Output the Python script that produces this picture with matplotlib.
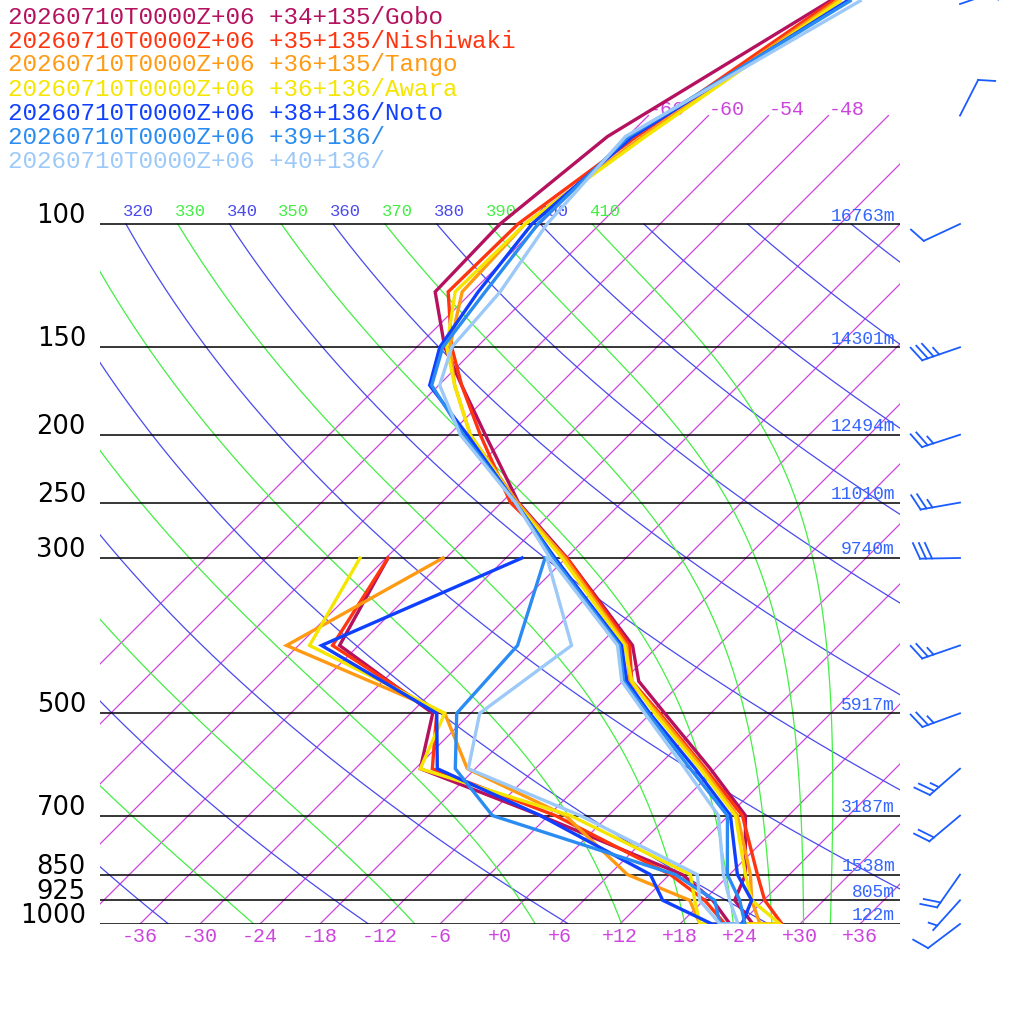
import numpy as np
import matplotlib
matplotlib.use("Agg")
import matplotlib.pyplot as plt

# ---------------- data ----------------
names = ["20260710T0000Z+06 +34+135/Gobo", "20260710T0000Z+06 +35+135/Nishiwaki",
         "20260710T0000Z+06 +36+135/Tango", "20260710T0000Z+06 +36+136/Awara",
         "20260710T0000Z+06 +38+136/Noto", "20260710T0000Z+06 +39+136/",
         "20260710T0000Z+06 +40+136/"]
colors = ["#b5115f", "#ff3510", "#ff9a12", "#f5e600", "#1040ff", "#2a8cf2", "#9cc9f7"]

p_temp = [1000, 925, 850, 700, 600, 500, 450, 400, 300, 250, 200, 170, 150, 125, 100, 75, 48]
t_gobo = [25.3, 21.1, 19.6, 13.7, 5.5, -4.6, -10.4, -14.6, -29.9, -40.3, -50.4, -57.7, -63.2, -69.7, -70.0, -68.0, -59.3]
t_nish = [28.2, 24.1, 20.8, 13.4, 5.0, -5.1, -11.1, -14.9, -29.9, -41.1, -50.9, -57.7, -62.5, -68.4, -68.2, -65.1, -59.0]
t_tang = [26.0, 22.8, 20.1, 12.9, 4.8, -5.3, -11.3, -15.2, -30.1, -40.4, -51.9, -58.4, -62.7, -67.0, -67.5, -64.5, -58.6]
t_awar = [28.0, 22.8, 19.6, 12.7, 4.5, -5.6, -11.1, -15.4, -30.4, -40.6, -51.9, -58.4, -63.0, -67.7, -67.5, -64.2, -58.3]
t_noto = [24.2, 22.8, 18.8, 12.2, 4.0, -6.1, -11.6, -15.7, -31.1, -40.6, -52.2, -60.9, -63.7, -65.4, -66.8, -65.5, -57.6]
t_p39 = [24.5, 21.6, 17.8, 11.9, 3.5, -6.3, -11.9, -15.9, -31.3, -40.6, -52.6, -60.7, -63.4, -64.7, -66.2, -65.9, -57.3]
t_p40 = [23.8, 20.6, 17.4, 11.0, 3.0, -6.6, -12.1, -16.1, -31.6, -40.6, -52.9, -59.9, -62.5, -63.2, -65.3, -66.2, -56.3]

p_dew = [300, 400, 500, 600, 700, 850, 925, 1000]
td_gobo = [-47.8, -43.9, -27.8, -23.5, -6.8, 13.3, 18.9, 23.0]
td_nish = [-47.8, -44.6, -27.4, -22.3, -5.3, 12.1, 18.1, 22.5]
td_tang = [-42.3, -49.2, -26.6, -18.8, -4.3, 7.8, 16.6, 20.0]
td_awar = [-50.6, -46.9, -26.6, -23.5, -3.8, 14.1, 17.1, 20.0]
td_noto = [-34.4, -45.7, -27.4, -21.8, -6.8, 10.1, 13.9, 21.2]
td_p39 = [-32.1, -26.1, -25.4, -20.0, -11.6, 12.6, 19.1, 22.0]
td_p40 = [-31.9, -20.7, -23.1, -18.7, -2.8, 14.8, 17.6, 22.0]

temps = [t_gobo, t_nish, t_tang, t_awar, t_noto, t_p39, t_p40]
dews = [td_gobo, td_nish, td_tang, td_awar, td_noto, td_p39, td_p40]

levels = [100, 150, 200, 250, 300, 500, 700, 850, 925, 1000]
heights = ["16763m", "14301m", "12494m", "11010m", "9740m", "5917m", "3187m", "1538m", "805m", "122m"]

barb_p = [48.5, 70, 100, 150, 200, 250, 300, 400, 500, 600, 700, 850, 925, 1000]
barb_dir = [71, 27, 245, 251, 252, 260, 269, 251, 250, 229, 230, 215, 222, 233]
barb_spd = [5, 10, 10, 35, 25, 25, 30, 25, 25, 25, 20, 20, 5, 10]

bottom_ticks = [-36, -30, -24, -18, -12, -6, 0, 6, 12, 18, 24, 30, 36]
isotherms = list(range(-66, 61, 6))
top_iso_labels = [-66, -60, -54, -48]
dry_thetas = list(range(200, 601, 20))
moist_thetas = list(range(210, 411, 20))
theta_labels = list(range(310, 411, 10))

# ---------------- helpers ----------------
SKEW = 70.0
def yv(p):
    return np.log10(1000.0 / np.asarray(p, float))
def xv(t, p):
    return np.asarray(t, float) + SKEW * yv(p)

fig = plt.figure(figsize=(10.24, 10.24), dpi=100)
ax = fig.add_axes([100/1024, 100/1024, 800/1024, 924/1024])
ax.set_xlim(-40, 40)
ax.set_ylim(0, 924/700)
ax.axis("off")

mono = "Liberation Mono"
ISO_C = "#cc44dd"
DRY_C = "#4a4aee"
MOIST_C = "#44ee44"
H_C = "#3366ff"

# isotherms
pp = np.array([1000, 70.0])
for T in isotherms:
    ax.plot(xv([T, T], pp), yv(pp), color=ISO_C, lw=0.9, zorder=1)
for T in top_iso_labels:
    ax.text(xv(T, 70), yv(70) + 6/700, "%d" % T, color=ISO_C, fontsize=14.4,
            family=mono, ha="left", va="center", zorder=1)

# dry adiabats
pl = np.geomspace(1000, 100, 200)
for th in dry_thetas:
    T = th * (pl / 1000.0) ** 0.2857 - 273.15
    ax.plot(xv(T, pl), yv(pl), color=DRY_C, lw=0.9, zorder=1)

# moist adiabats (integrated from 100 hPa downward)
def moist(theta):
    Rd, cp, Lv, eps = 287.04, 1005.7, 2.501e6, 0.622
    ps = np.geomspace(100, 1000, 600)
    T = theta * (0.1) ** 0.2857
    out = [T]
    def f(Tk, p):
        tc = Tk - 273.15
        es = 6.112 * np.exp(17.67 * tc / (tc + 243.5))
        rs = eps * es / max(p - es, 1e-3)
        return (Rd * Tk + Lv * rs) / (p * (cp + Lv**2 * rs * eps / (Rd * Tk**2)))
    for i in range(1, len(ps)):
        p0 = ps[i-1]
        dp = ps[i] - p0
        k1 = f(T, p0)
        k2 = f(T + dp * k1 / 2, p0 + dp / 2)
        k3 = f(T + dp * k2 / 2, p0 + dp / 2)
        k4 = f(T + dp * k3, p0 + dp)
        T = T + dp * (k1 + 2*k2 + 2*k3 + k4) / 6
        out.append(T)
    return ps, np.array(out) - 273.15

for th in moist_thetas:
    ps, T = moist(th)
    ax.plot(xv(T, ps), yv(ps), color=MOIST_C, lw=0.9, zorder=1)

# theta labels at 100 hPa
for th in theta_labels:
    T = th * 0.1 ** 0.2857 - 273.15
    col = MOIST_C if (th // 10) % 2 == 1 else DRY_C
    ax.text(xv(T, 100) - 0.3, yv(100) + 12/700, str(th), color=col, fontsize=12.4,
            family=mono, ha="left", va="center", clip_on=True, zorder=1)

# pressure levels
for p, h in zip(levels, heights):
    ax.plot([-40, 40], [yv(p), yv(p)], color="black", lw=1.1, zorder=2)
    ax.text(39.5, yv(p) + 8/700, h, color=H_C, fontsize=13, family=mono,
            ha="right", va="center", zorder=2)
    ax.text(-41.4, yv(p) + 8/700, str(p), color="black", fontsize=18.5,
            family="DejaVu Sans", ha="right", va="center", clip_on=False)

for t in bottom_ticks:
    lab = "%+d" % t if t != 0 else "+0"
    ax.text(t, -12/700, lab, color=ISO_C, fontsize=14.4, family=mono,
            ha="center", va="center", clip_on=False)

# profiles: dewpoint from top down, then temperature from the ground up
for tl, dl, c in zip(temps, dews, colors):
    P = list(p_dew) + list(p_temp)
    T = list(dl) + list(tl)
    ax.plot(xv(T, P), yv(P), color=c, lw=2.4, solid_joinstyle="miter", zorder=5)

# legend text
for i, (n, c) in enumerate(zip(names, colors)):
    fig.text(8/1024, 1 - (17 + 24*i)/1024, n, color=c, fontsize=17.5, family=mono,
             ha="left", va="center")

# wind barbs (pixel overlay)
ov = fig.add_axes([0, 0, 1, 1])
ov.set_xlim(0, 1024)
ov.set_ylim(1024, 0)
ov.axis("off")
BC = "#1a5cff"
for p, d, s in zip(barb_p, barb_dir, barb_spd):
    y0 = 924 - 700 * np.log10(1000.0 / p)
    x0 = 960
    r = np.deg2rad(d)
    sx, sy = np.sin(r), -np.cos(r)   # screen coords (y down)
    nx, ny = -sy, sx
    L = 40
    tx, ty = x0 + L*sx, y0 + L*sy
    ov.plot([x0, tx], [y0, ty], color=BC, lw=1.3, clip_on=False)
    bx, by = 0.4*sx + 0.92*nx, 0.4*sy + 0.92*ny
    full, half = s // 10, (s % 10) // 5
    pos = 0
    for k in range(full):
        px, py = tx - pos*sx, ty - pos*sy
        ov.plot([px, px + 17*bx], [py, py + 17*by], color=BC, lw=1.3, clip_on=False)
        pos += 6
    if half:
        if full == 0:
            pos = 6
        px, py = tx - pos*sx, ty - pos*sy
        ov.plot([px, px + 9*bx], [py, py + 9*by], color=BC, lw=1.3, clip_on=False)

fig.savefig("out.png", dpi=100)
